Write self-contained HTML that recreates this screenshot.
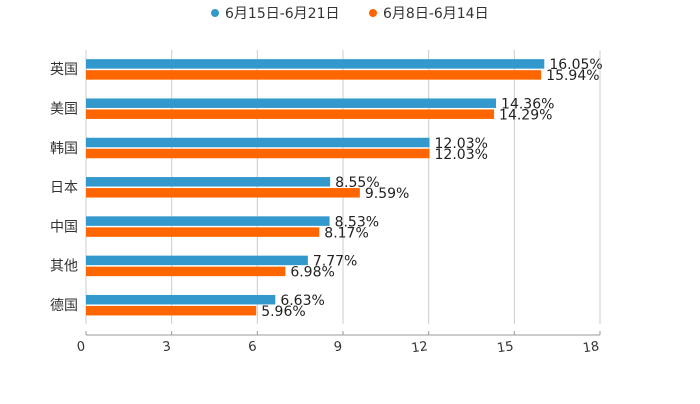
<!DOCTYPE html>
<html><head><meta charset="utf-8"><style>
body{margin:0;background:#fff;width:700px;height:400px;overflow:hidden;font-family:"DejaVu Sans","Noto Sans CJK SC",sans-serif}
</style></head><body>
<svg id="c" width="700" height="400" xmlns="http://www.w3.org/2000/svg" font-family="DejaVu Sans, Noto Sans CJK SC, sans-serif"></svg>
<script>
const categories=["英国","美国","韩国","日本","中国","其他","德国"];
const seriesA=[16.05,14.36,12.03,8.55,8.53,7.77,6.63];
const seriesB=[15.94,14.29,12.03,9.59,8.17,6.98,5.96];
const seriesNames=["6月15日-6月21日","6月8日-6月14日"];
const ticks=[0,3,6,9,12,15,18];
const colors=["#3399cc","#ff6600"];
const svg=document.getElementById('c');
const NS="http://www.w3.org/2000/svg";
const x0=86,x1=600,topY=49.5,band=39.3;
const xs=v=>x0+(v-0)/(18-0)*(x1-x0);
const yc=i=>topY+band*(i+0.5);
function mk(t,a,p){const e=document.createElementNS(NS,t);for(const k in a)e.setAttribute(k,a[k]);(p||svg).appendChild(e);return e;}
ticks.forEach((t,i)=>{
 const g=mk('line',{x1:xs(t),x2:xs(t),y1:50,y2:324,stroke:'#ccc','stroke-width':1});
 
 
 const tk=mk('line',{x1:xs(t),x2:xs(t),y1:331,y2:335,stroke:'#999'});
 
 
 const l=mk('text',{x:xs(t)-1,y:350,'text-anchor':'end','font-size':13,fill:'#333',transform:`rotate(-8 ${xs(t)} 345)`});
 l.textContent=t;
 
 
});
const ax=mk('line',{x1:x0,x2:x1,y1:335,y2:335,stroke:'#999'});


categories.forEach((c,i)=>{
 const y=yc(i);
 const cl=mk('text',{x:78,y:y+5,'text-anchor':'end','font-size':14,fill:'#333'});
 cl.textContent=c;
 
 
 [seriesA[i],seriesB[i]].forEach((v,s)=>{
  const by=s===0?y-10:y+1;
  const r=mk('rect',{x:x0,y:by,width:xs(v)-x0,height:9.5,fill:colors[s]});
  
  
  const t=mk('text',{x:xs(v)+5,y:by+10,'font-size':14,fill:'#222'});
  t.textContent=v.toFixed(2)+'%';
  
  
 });
});
const lx=[215,373];
seriesNames.forEach((n,s)=>{
 const g=mk('g',{});
 
 
 mk('circle',{cx:lx[s],cy:13,r:4,fill:colors[s]},g);
 const t=mk('text',{x:lx[s]+10,y:18,'font-size':14,fill:'#333'},g);
 t.textContent=n;
});
</script>
</body></html>
